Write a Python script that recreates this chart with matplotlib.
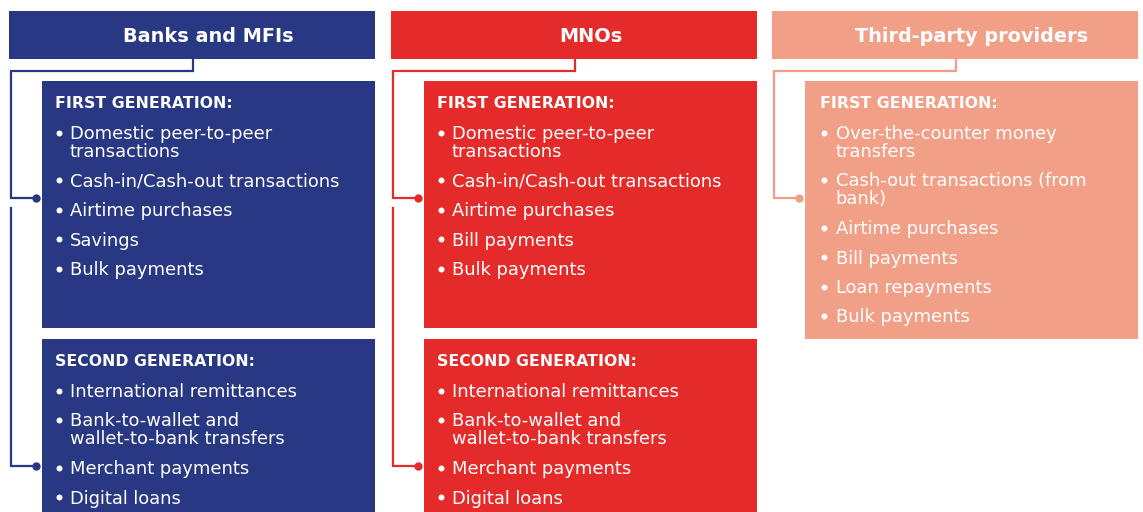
import matplotlib.pyplot as plt
from matplotlib.patches import Rectangle

plt.rcParams['font.family'] = ['DejaVu Sans']

# Content of the three columns
providers = ["Banks and MFIs", "MNOs", "Third-party providers"]
colors = ["#283883", "#E52B2A", "#F29F87"]
first_gen = [
    ["Domestic peer-to-peer\ntransactions", "Cash-in/Cash-out transactions",
     "Airtime purchases", "Savings", "Bulk payments"],
    ["Domestic peer-to-peer\ntransactions", "Cash-in/Cash-out transactions",
     "Airtime purchases", "Bill payments", "Bulk payments"],
    ["Over-the-counter money\ntransfers", "Cash-out transactions (from\nbank)",
     "Airtime purchases", "Bill payments", "Loan repayments", "Bulk payments"],
]
second_gen = [
    ["International remittances", "Bank-to-wallet and\nwallet-to-bank transfers",
     "Merchant payments", "Digital loans"],
    ["International remittances", "Bank-to-wallet and\nwallet-to-bank transfers",
     "Merchant payments", "Digital loans"],
    None,
]

# Layout (pixels, y grows downward)
col_left = [9, 391, 772]
col_w = 366
sub_off = 33
head_top, head_bot = 11, 59
box1_top = 81
box1_bot = [328, 328, 339]
box2_top = 339
wrap_gap = 18
item_gap = 29.5
indent = [0, 0, 2.5]   # third column text sits a bit further right

fig = plt.figure(figsize=(11.43, 5.12), dpi=100)
ax = fig.add_axes([0, 0, 1, 1])
ax.set_xlim(0, 1143)
ax.set_ylim(512, 0)
ax.axis('off')


def draw_list(x0, y_head, title, items):
    ax.text(x0 + 13, y_head, title, color='white', fontsize=11.3,
            fontweight='bold', va='baseline', ha='left')
    y = y_head + 31
    for it in items:
        ax.plot(x0 + 16.5, y - 6.5, 'o', color='white', markersize=4.3, mec='none')
        lines = it.split("\n")
        for k, ln in enumerate(lines):
            ax.text(x0 + 28, y + k * wrap_gap, ln, color='white', fontsize=12.9,
                    va='baseline', ha='left')
        y += (len(lines) - 1) * wrap_gap + item_gap


for i, name in enumerate(providers):
    c = colors[i]
    x = col_left[i]
    sx = x + sub_off
    # header band
    ax.add_patch(Rectangle((x, head_top), col_w, head_bot - head_top, color=c, lw=0))
    ax.text((sx + x + col_w) / 2, 42.5, name, color='white', fontsize=13.9,
            fontweight='bold', ha='center', va='baseline')
    # first generation box
    ax.add_patch(Rectangle((sx, box1_top), x + col_w - sx, box1_bot[i] - box1_top,
                           color=c, lw=0))
    draw_list(sx + indent[i], 108, "FIRST GENERATION:", first_gen[i])
    # connector to first box
    jx = x + 184
    vx = x + 1.5
    ax.plot([jx, jx, vx, vx, x + 27], [head_bot, 71, 71, 198, 198],
            color=c, lw=1.6, solid_joinstyle='miter')
    ax.plot(x + 27, 198, 'o', color=c, markersize=6, mec='none')
    if second_gen[i] is not None:
        ax.add_patch(Rectangle((sx, box2_top), x + col_w - sx, 520 - box2_top,
                               color=c, lw=0))
        draw_list(sx + indent[i], 366, "SECOND GENERATION:", second_gen[i])
        ax.plot([vx, vx, x + 27], [208, 466, 466], color=c, lw=1.6,
                solid_joinstyle='miter')
        ax.plot(x + 27, 466, 'o', color=c, markersize=6, mec='none')

fig.savefig('out.png', dpi=100)
